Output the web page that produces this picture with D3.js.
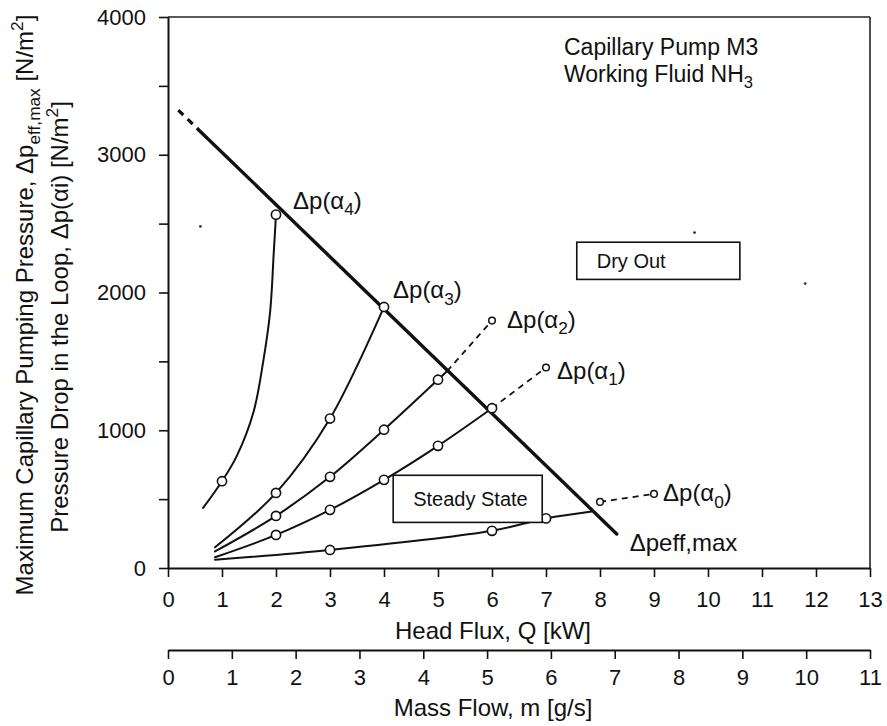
<!DOCTYPE html>
<html><head><meta charset="utf-8">
<script src="https://cdn.jsdelivr.net/npm/d3@7/dist/d3.min.js"></script>
<style>
body{margin:0;background:#fff}
svg{display:block}
text{font-family:"Liberation Sans",Arial,Helvetica,sans-serif;fill:#111}
</style>
</head><body>
<svg id="c" width="887" height="726"></svg>
<script>
// ---------- data ----------
const headFluxTicks = [0,1,2,3,4,5,6,7,8,9,10,11,12,13];
const massFlowTicks = [0,1,2,3,4,5,6,7,8,9,10,11];
const pressureTicks = [0,500,1000,1500,2000,2500,3000,3500,4000];
const pressureLabels = [0,1000,2000,3000,4000];

// maximum effective capillary pumping pressure (kW, N/m2)
const maxLineDashed = [[0.19,3324],[0.56,3184]];
const maxLineSolid  = [[0.56,3184],[8.31,247]];

// pressure drop curves  Δp(αi)
const a4Line = [[0.65,436],[1,630],[1.27,810],[1.58,1127],[1.76,1491],[1.89,1855],[1.96,2300],[2,2565]];
const a3Line = [[0.87,150],[2,545],[3,1085],[4,1895]];
const a2Line = [[0.87,120],[2,378],[3,662],[4,1004],[5,1367],[5.17,1430]];
const a2Dash = [[5.17,1430],[6,1796]];
const a1Line = [[0.87,78],[2,240],[3,422],[4,640],[5,887],[6,1160]];
const a1Dash = [[6,1160],[7,1455]];
const a0Line = [[0.87,60],[3,131],[6,270],[7,360],[7.85,410]];
const a0Dash = [[8,480],[9,538]];

// measured points
const a4Pts = [[1,630],[2,2565]];
const a3Pts = [[2,545],[3,1085],[4,1895]];
const a2Pts = [[2,378],[3,662],[4,1004],[5,1367]];
const a1Pts = [[2,240],[3,422],[4,640],[5,887],[6,1160]];
const a0Pts = [[3,131],[6,270],[7,360]];
const endPts = [[6,1796],[7,1455],[8,480],[9,538]];

// stray specks of the scanned original (kW, N/m2)
const specks = [[0.6,2480],[9.75,2435],[11.8,2065]];

// ---------- drawing ----------
const svg = d3.select("#c");
const x = d3.scaleLinear().domain([0,13]).range([168,870]);
const xm = d3.scaleLinear().domain([0,11]).range([168,870]);
const y = d3.scaleLinear().domain([0,4000]).range([568,17]);
const TICK_FS = 22, FS = 24;

// frame
svg.append("line").attr("x1",x(0)).attr("x2",x(13)).attr("y1",y(4000)).attr("y2",y(4000))
  .attr("stroke","#222").attr("stroke-width",1.6);
svg.append("line").attr("x1",x(13)).attr("x2",x(13)).attr("y1",y(4000)).attr("y2",y(0))
  .attr("stroke","#222").attr("stroke-width",1.6);

function styleAxis(g){
  g.select(".domain").attr("stroke","#111").attr("stroke-width",2);
  g.selectAll(".tick line").attr("stroke","#111").attr("stroke-width",1.6);
  g.selectAll(".tick text").attr("font-size",TICK_FS).attr("fill","#111")
    .attr("font-family",'"Liberation Sans",Arial,sans-serif');
}

const gy = svg.append("g").attr("transform",`translate(${x(0)},0)`)
  .call(d3.axisLeft(y).tickValues(pressureTicks)
    .tickFormat(d => pressureLabels.includes(d) ? d : "")
    .tickSize(9).tickSizeOuter(0).tickPadding(13));
styleAxis(gy);

const gx = svg.append("g").attr("transform",`translate(0,${y(0)})`)
  .call(d3.axisBottom(x).tickValues(headFluxTicks).tickFormat(d3.format("d"))
    .tickSize(9).tickSizeOuter(0).tickPadding(14));
styleAxis(gx);

const gm = svg.append("g").attr("transform",`translate(0,650)`)
  .call(d3.axisBottom(xm).tickValues(massFlowTicks).tickFormat(d3.format("d"))
    .tickSize(9).tickSizeOuter(0).tickPadding(10));
styleAxis(gm);

svg.append("text").attr("x",493).attr("y",639).attr("text-anchor","middle")
  .attr("font-size",FS).text("Head Flux, Q [kW]");
svg.append("text").attr("x",493).attr("y",716).attr("text-anchor","middle")
  .attr("font-size",FS).text("Mass Flow, m [g/s]");

// rich text helper (sub/superscripts)
function richEnd(sel, parts, fs){
  let shift = 0;
  parts.forEach(p => {
    const t = sel.append("tspan").text(p.t);
    const target = p.sub ? fs*0.28 : p.sup ? -fs*0.42 : 0;
    t.attr("dy", target - shift);
    shift = target;
    if (p.sub || p.sup) t.attr("font-size", fs*0.72);
  });
  return sel;
}

// y axis titles
richEnd(svg.append("text").attr("text-anchor","middle").attr("font-size",FS)
  .attr("transform","translate(33,305) rotate(-90)"),
  [{t:"Maximum Capillary Pumping Pressure, \u0394p"},{t:"eff,max",sub:true},{t:" [N/m"},{t:"2",sup:true},{t:"]"}], FS);
richEnd(svg.append("text").attr("text-anchor","middle").attr("font-size",FS)
  .attr("transform","translate(68,317) rotate(-90)"),
  [{t:"Pressure Drop in the Loop, \u0394p(\u03b1i) [N/m"},{t:"2",sup:true},{t:"]"}], FS);

// lines
const lineC = d3.line().x(d=>x(d[0])).y(d=>y(d[1])).curve(d3.curveCatmullRom.alpha(0.5));
const lineS = d3.line().x(d=>x(d[0])).y(d=>y(d[1]));

function path(data, gen, w, dash){
  const p = svg.append("path").attr("d",gen(data)).attr("fill","none")
    .attr("stroke","#111").attr("stroke-width",w).attr("stroke-linecap","round");
  if (dash) p.attr("stroke-dasharray",dash).attr("stroke-linecap","butt");
  return p;
}
[a4Line,a3Line,a2Line,a1Line,a0Line].forEach(d => path(d,lineC,2));
[a2Dash,a1Dash,a0Dash].forEach(d => path(d,lineS,1.8,"6,5"));
path(maxLineDashed,lineS,3.2,"7,6");
path(maxLineSolid,lineS,3.4);

// markers
[a4Pts,a3Pts,a2Pts,a1Pts,a0Pts].forEach(arr => {
  svg.append("g").selectAll("circle").data(arr).join("circle")
    .attr("cx",d=>x(d[0])).attr("cy",d=>y(d[1])).attr("r",4.6)
    .attr("fill","#fff").attr("stroke","#111").attr("stroke-width",1.6);
});
svg.append("g").selectAll("circle").data(endPts).join("circle")
  .attr("cx",d=>x(d[0])).attr("cy",d=>y(d[1])).attr("r",3.3)
  .attr("fill","#fff").attr("stroke","#111").attr("stroke-width",1.5);
svg.append("g").selectAll("circle").data(specks).join("circle")
  .attr("cx",d=>x(d[0])).attr("cy",d=>y(d[1])).attr("r",1.4).attr("fill","#333");

// curve labels
function dpLabel(px,py,idx){
  richEnd(svg.append("text").attr("x",px).attr("y",py).attr("font-size",FS),
    [{t:"\u0394p(\u03b1"},{t:String(idx),sub:true},{t:")"}], FS);
}
dpLabel(x(a4Pts[1][0])+17, y(a4Pts[1][1])-6, 4);
dpLabel(x(a3Pts[2][0])+9,  y(a3Pts[2][1])-9, 3);
dpLabel(x(endPts[0][0])+15, y(endPts[0][1])+7, 2);
dpLabel(x(endPts[1][0])+11, y(endPts[1][1])+11, 1);
dpLabel(x(endPts[3][0])+9,  y(endPts[3][1])+7, 0);
svg.append("text").attr("x",x(maxLineSolid[1][0])+13).attr("y",y(maxLineSolid[1][1])+17)
  .attr("font-size",FS).text("\u0394peff,max");

// boxes
function box(x0,y0,x1,y1,label){
  svg.append("rect").attr("x",x(x0)).attr("y",y(y1)).attr("width",x(x1)-x(x0)).attr("height",y(y0)-y(y1))
    .attr("fill","#fff").attr("stroke","#111").attr("stroke-width",1.6);
  svg.append("text").attr("x",x(x0)+20).attr("y",(y(y0)+y(y1))/2+7).attr("font-size",20).text(label);
}
box(7.57,2095,10.59,2365,"Dry Out");
box(4.17,331,6.93,673,"Steady State");

// title block
svg.append("text").attr("x",564).attr("y",55).attr("font-size",23).text("Capillary Pump M3");
richEnd(svg.append("text").attr("x",564).attr("y",82).attr("font-size",23),
  [{t:"Working Fluid NH"},{t:"3",sub:true}], 23);
</script>
</body></html>
